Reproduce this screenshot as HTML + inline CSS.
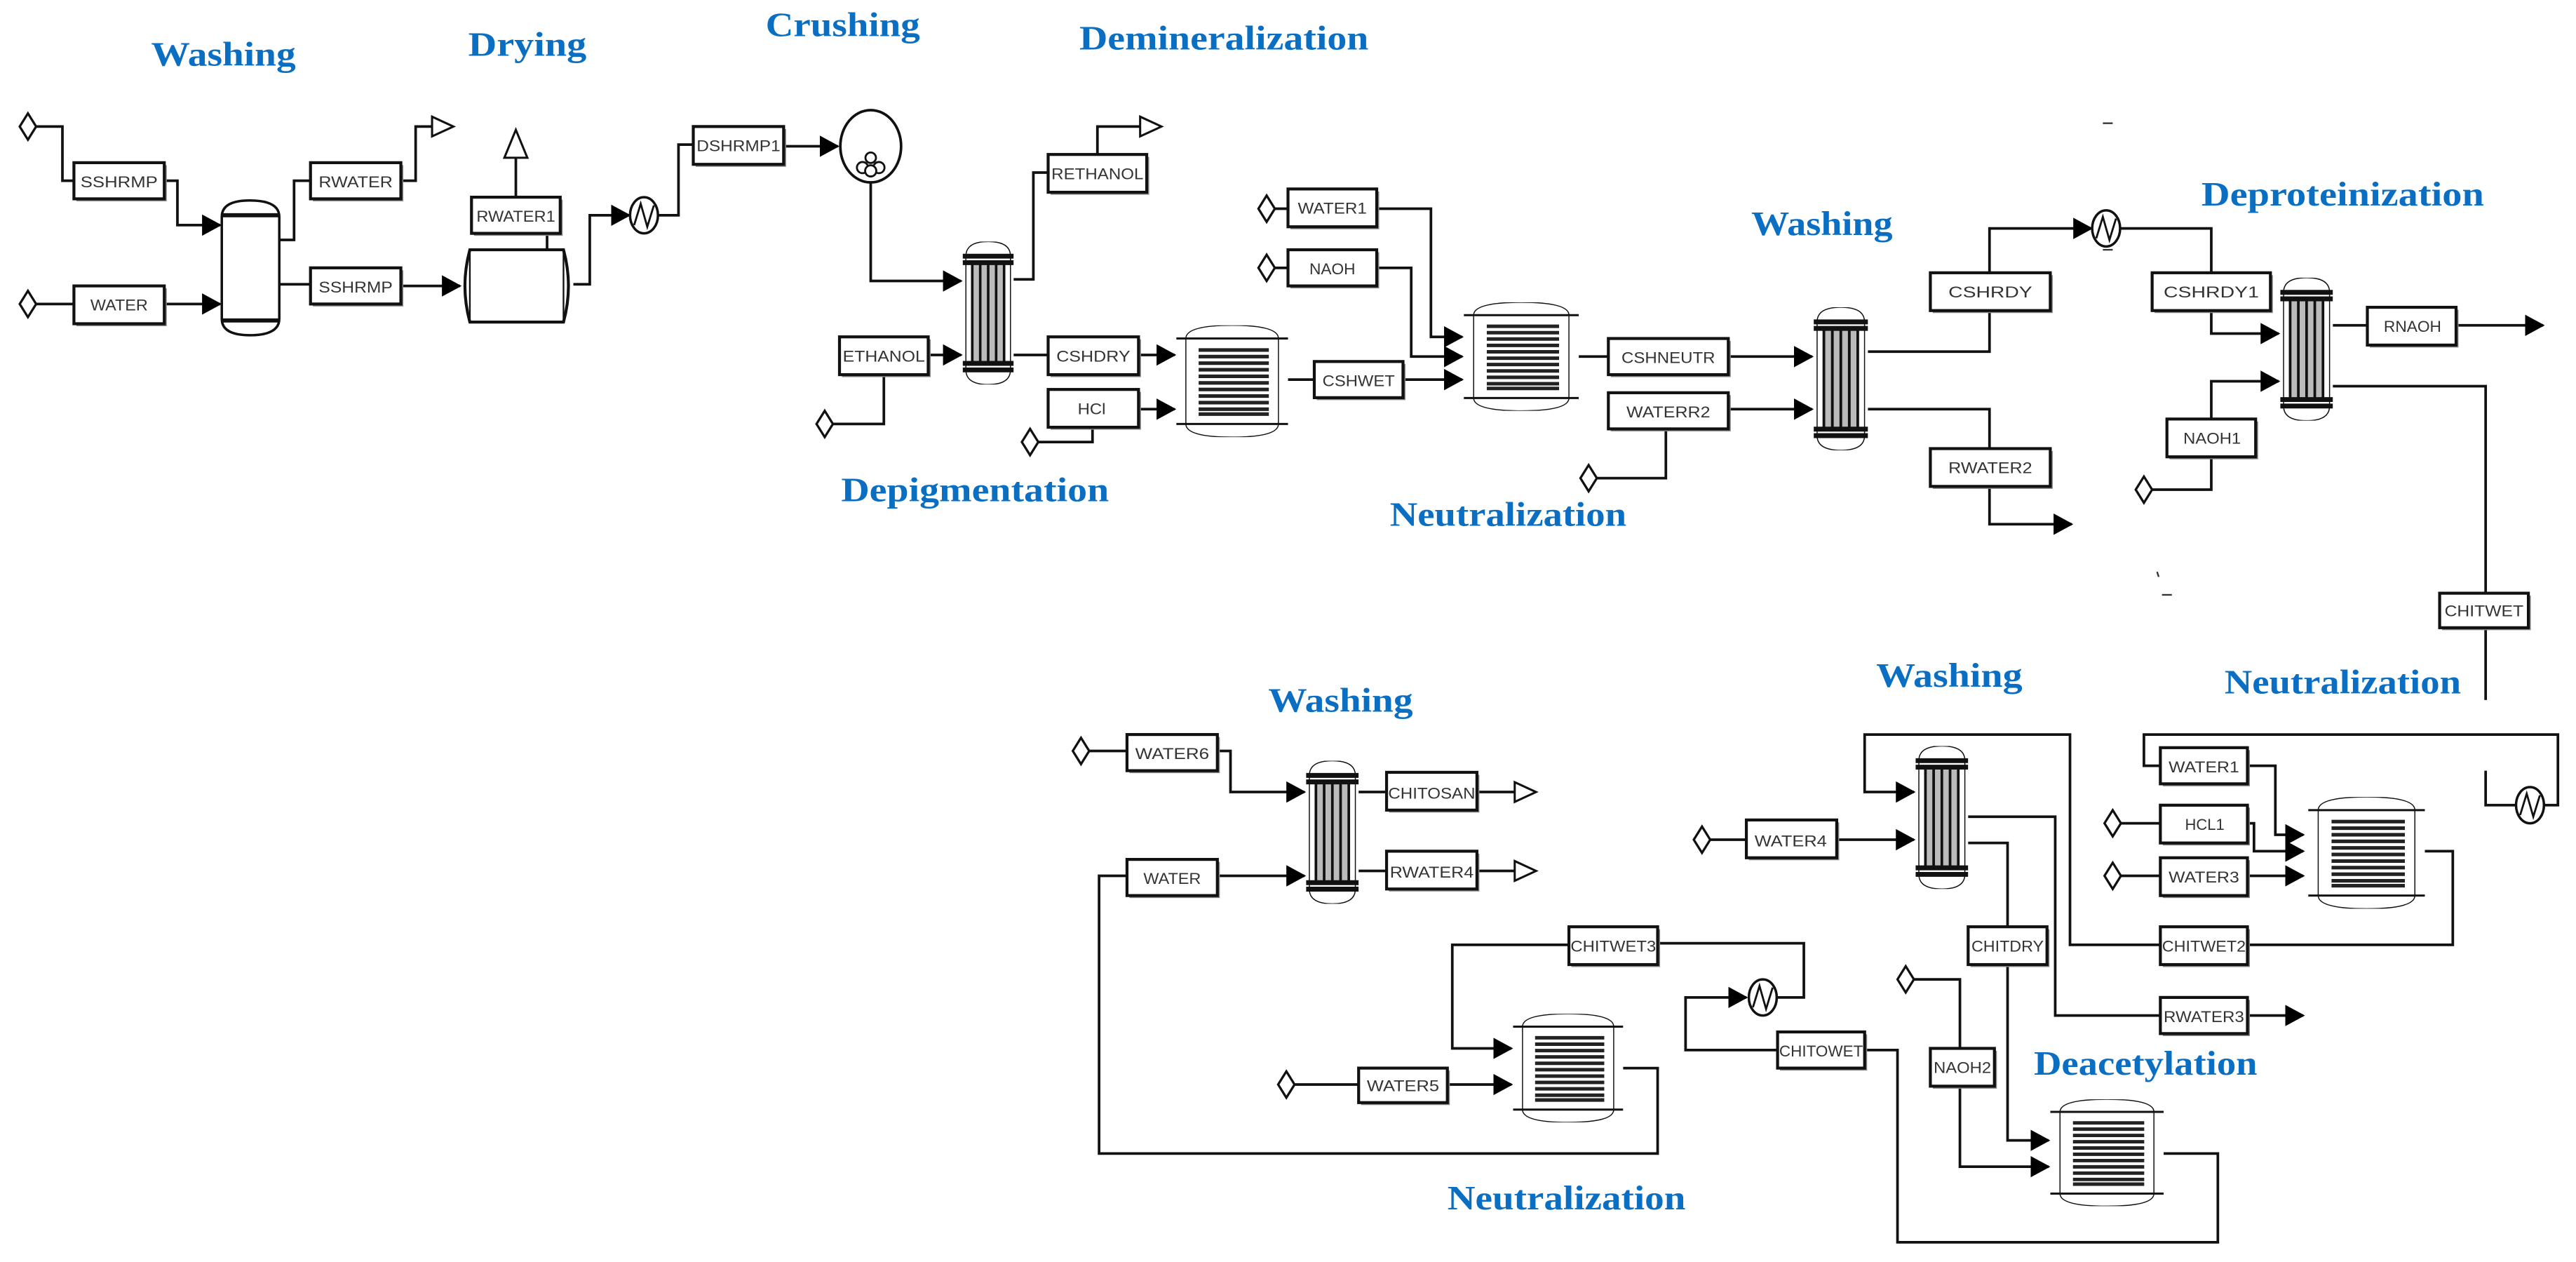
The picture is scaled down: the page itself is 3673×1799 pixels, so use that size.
<!DOCTYPE html>
<html><head><meta charset="utf-8"><style>
html,body{margin:0;padding:0;background:#fff;}
svg{display:block;}
.l{fill:none;stroke:#111;stroke-width:1.6;}
.b{fill:#fff;stroke:#111;stroke-width:1.8;}
.s{fill:#888;}
.t{font-family:"Liberation Sans",sans-serif;font-size:9.5px;fill:#333;}
.h{font-family:"Liberation Serif",serif;font-weight:bold;font-size:21px;fill:#0a6fc2;}
.d{fill:#fff;stroke:#111;stroke-width:1.4;}
</style></head><body>
<svg width="3673" height="1799" viewBox="0 0 1568 768" preserveAspectRatio="none" xmlns="http://www.w3.org/2000/svg">
<defs>
<marker id="a" markerUnits="userSpaceOnUse" markerWidth="12" markerHeight="13" refX="11" refY="6.5" orient="auto"><path d="M0,0 L12,6.5 L0,13 z" fill="#000"/></marker>
<marker id="o" markerUnits="userSpaceOnUse" markerWidth="16" markerHeight="14" refX="1" refY="7" orient="auto"><path d="M1,1 L14,7 L1,13 z" fill="#fff" stroke="#111" stroke-width="1.3"/></marker>
<symbol id="R" viewBox="0 0 70 68" preserveAspectRatio="none">
<path d="M6,8 Q6,0 35,0 Q64,0 64,8 L64,60 Q64,68 35,68 Q6,68 6,60 Z" fill="#fff" stroke="#111" stroke-width="1.5" vector-effect="non-scaling-stroke"/>
<line x1="0" y1="8" x2="70" y2="8" stroke="#111" stroke-width="3" vector-effect="non-scaling-stroke"/>
<line x1="0" y1="60" x2="70" y2="60" stroke="#111" stroke-width="3" vector-effect="non-scaling-stroke"/>
<g stroke="#222" stroke-width="2.2" vector-effect="non-scaling-stroke">
<line x1="14" y1="15" x2="58" y2="15"/><line x1="14" y1="19" x2="58" y2="19"/><line x1="14" y1="23" x2="58" y2="23"/><line x1="14" y1="27" x2="58" y2="27"/><line x1="14" y1="31" x2="58" y2="31"/><line x1="14" y1="35" x2="58" y2="35"/><line x1="14" y1="39" x2="58" y2="39"/><line x1="14" y1="43" x2="58" y2="43"/><line x1="14" y1="47" x2="58" y2="47"/><line x1="14" y1="51" x2="58" y2="51"/><line x1="14" y1="54" x2="58" y2="54"/>
</g></symbol>
<symbol id="C" viewBox="0 0 32 88" preserveAspectRatio="none">
<path d="M2,9 Q2,0 16,0 Q30,0 30,9 L30,79 Q30,88 16,88 Q2,88 2,79 Z" fill="#fff" stroke="#111" stroke-width="1.5" vector-effect="non-scaling-stroke"/>
<rect x="6" y="12" width="20" height="64" fill="#bbb"/>
<g stroke="#111" stroke-width="3" vector-effect="non-scaling-stroke"><line x1="0" y1="9" x2="32" y2="9"/><line x1="0" y1="13" x2="32" y2="13"/><line x1="0" y1="75" x2="32" y2="75"/><line x1="0" y1="79" x2="32" y2="79"/></g>
<g stroke="#111" stroke-width="1.6" vector-effect="non-scaling-stroke"><line x1="6" y1="13" x2="6" y2="75"/><line x1="11" y1="13" x2="11" y2="75"/><line x1="16" y1="13" x2="16" y2="75"/><line x1="21" y1="13" x2="21" y2="75"/><line x1="26" y1="13" x2="26" y2="75"/></g>
</symbol>
</defs>

<!-- headings -->
<text class="h" x="92" y="40" textLength="88" lengthAdjust="spacingAndGlyphs">Washing</text>
<text class="h" x="285" y="34" textLength="72" lengthAdjust="spacingAndGlyphs">Drying</text>
<text class="h" x="466" y="22" textLength="94" lengthAdjust="spacingAndGlyphs">Crushing</text>
<text class="h" x="657" y="30" textLength="176" lengthAdjust="spacingAndGlyphs">Demineralization</text>
<text class="h" x="512" y="305" textLength="163" lengthAdjust="spacingAndGlyphs">Depigmentation</text>
<text class="h" x="846" y="320" textLength="144" lengthAdjust="spacingAndGlyphs">Neutralization</text>
<text class="h" x="1066" y="143" textLength="86" lengthAdjust="spacingAndGlyphs">Washing</text>
<text class="h" x="1340" y="125" textLength="172" lengthAdjust="spacingAndGlyphs">Deproteinization</text>
<text class="h" x="772" y="433" textLength="88" lengthAdjust="spacingAndGlyphs">Washing</text>
<text class="h" x="1142" y="418" textLength="89" lengthAdjust="spacingAndGlyphs">Washing</text>
<text class="h" x="1354" y="422" textLength="144" lengthAdjust="spacingAndGlyphs">Neutralization</text>
<text class="h" x="1238" y="654" textLength="136" lengthAdjust="spacingAndGlyphs">Deacetylation</text>
<text class="h" x="881" y="736" textLength="145" lengthAdjust="spacingAndGlyphs">Neutralization</text>

<!-- stray marks -->
<g stroke="#333" stroke-width="1"><line x1="1280" y1="75" x2="1286" y2="75"/><line x1="1280" y1="152" x2="1286" y2="152"/><line x1="1313" y1="348" x2="1314" y2="351"/><line x1="1316" y1="362" x2="1322" y2="362"/></g>

<!-- lines -->
<g class="l">
<path d="M22,77 H38 V110 H45"/>
<path d="M100,110 H108 V137 H134" marker-end="url(#a)"/>
<path d="M22,185 H45"/>
<path d="M100,185 H134" marker-end="url(#a)"/>
<path d="M170,146 H179 V110 H189"/>
<path d="M244,110 H253 V77 H263" marker-end="url(#o)"/>
<path d="M170,173 H189"/>
<path d="M244,174 H280" marker-end="url(#a)"/>
<path d="M333,152 V142"/>
<path d="M314,120 V95"/>
<path d="M349,173 H359 V131 H383" marker-end="url(#a)"/>
<path d="M401,131 H413 V88 H422"/>
<path d="M477,89 H510" marker-end="url(#a)"/>
<path d="M530,111 V171 H585" marker-end="url(#a)"/>
<path d="M617,170 H629 V105 H638"/>
<path d="M668,94 V77 H694" marker-end="url(#o)"/>
<path d="M565,216 H585" marker-end="url(#a)"/>
<path d="M507,258 H538 V228"/>
<path d="M617,216 H638"/>
<path d="M693,216 H715" marker-end="url(#a)"/>
<path d="M693,249 H715" marker-end="url(#a)"/>
<path d="M632,269 H665 V260"/>
<path d="M784,231 H800"/>
<path d="M854,231 H890" marker-end="url(#a)"/>
<path d="M776,127 H784"/><path d="M838,127 H871 V205 H890" marker-end="url(#a)"/>
<path d="M776,163 H784"/><path d="M838,163 H859 V217 H890" marker-end="url(#a)"/>
<path d="M961,217 H979"/>
<path d="M1052,217 H1103" marker-end="url(#a)"/>
<path d="M1052,249 H1103" marker-end="url(#a)"/>
<path d="M972,291 H1014 V261"/>
<path d="M1137,214 H1211 V189"/>
<path d="M1211,166 V139 H1273" marker-end="url(#a)"/>
<path d="M1291,139 H1346 V166"/>
<path d="M1346,189 V203 H1387" marker-end="url(#a)"/>
<path d="M1137,249 H1211 V273"/>
<path d="M1211,296 V319 H1261" marker-end="url(#a)"/>
<path d="M1420,198 H1441"/>
<path d="M1495,198 H1548" marker-end="url(#a)"/>
<path d="M1346,255 V232 H1387" marker-end="url(#a)"/>
<path d="M1310,298 H1346 V278"/>
<path d="M1420,235 H1513 V361"/>
<path d="M1513,382 V426"/>
<path d="M1513,469 V490 H1531"/>
<path d="M1549,490 H1557 V447 H1305 V466 H1315"/>
<path d="M1368,466 H1385 V508 H1402" marker-end="url(#a)"/>
<path d="M1291,501 H1315"/>
<path d="M1368,501 H1372 V518 H1402" marker-end="url(#a)"/>
<path d="M1291,533 H1315"/>
<path d="M1368,533 H1402" marker-end="url(#a)"/>
<path d="M1476,518 H1493 V575 H1368"/>
<path d="M1315,575 H1260 V447 H1135 V482 H1165" marker-end="url(#a)"/>
<path d="M1041,511 H1063"/>
<path d="M1118,511 H1165" marker-end="url(#a)"/>
<path d="M1198,497 H1251 V618 H1315"/>
<path d="M1368,618 H1402" marker-end="url(#a)"/>
<path d="M1198,513 H1222 V564"/>
<path d="M1222,587 V694 H1247" marker-end="url(#a)"/>
<path d="M1165,596 H1193 V638"/>
<path d="M1193,661 V710 H1247" marker-end="url(#a)"/>
<path d="M1317,702 H1350 V756 H1155 V639 H1135"/>
<path d="M1082,639 H1026 V607 H1063" marker-end="url(#a)"/>
<path d="M1082,607 H1098 V574 H1009"/>
<path d="M955,575 H884 V638 H920" marker-end="url(#a)"/>
<path d="M788,660 H827"/>
<path d="M881,660 H920" marker-end="url(#a)"/>
<path d="M988,650 H1009 V702 H669 V533 H686"/>
<path d="M741,533 H794" marker-end="url(#a)"/>
<path d="M663,457 H686"/>
<path d="M741,457 H749 V482 H794" marker-end="url(#a)"/>
<path d="M827,482 H844"/>
<path d="M899,482 H922" marker-end="url(#o)"/>
<path d="M827,530 H844"/>
<path d="M899,530 H922" marker-end="url(#o)"/>
</g>
<!-- up open arrow -->
<path d="M314,79 L321,96 L307,96 Z" fill="#fff" stroke="#111" stroke-width="1.3"/>

<!-- diamonds -->
<g class="d">
<polygon points="12,77 17,69 22,77 17,85"/>
<polygon points="12,185 17,177 22,185 17,193"/>
<polygon points="497,258 502,250 507,258 502,266"/>
<polygon points="622,269 627,261 632,269 627,277"/>
<polygon points="766,127 771,119 776,127 771,135"/>
<polygon points="766,163 771,155 776,163 771,171"/>
<polygon points="962,291 967,283 972,291 967,299"/>
<polygon points="1300,298 1305,290 1310,298 1305,306"/>
<polygon points="1281,501 1286,493 1291,501 1286,509"/>
<polygon points="1281,533 1286,525 1291,533 1286,541"/>
<polygon points="1031,511 1036,503 1041,511 1036,519"/>
<polygon points="1155,596 1160,588 1165,596 1160,604"/>
<polygon points="778,660 783,652 788,660 783,668"/>
<polygon points="653,457 658,449 663,457 658,465"/>
</g>

<!-- washer column -->
<path d="M135,132 Q135,122 152,122 Q170,122 170,132 L170,194 Q170,204 152,204 Q135,204 135,194 Z" fill="#fff" stroke="#111" stroke-width="1.5"/>
<line x1="135" y1="131" x2="170" y2="131" stroke="#111" stroke-width="2.5"/>
<line x1="135" y1="195" x2="170" y2="195" stroke="#111" stroke-width="2.5"/>
<!-- drum -->
<path d="M286,152 H343 Q349,174 343,196 H286 Q280,174 286,152 Z" fill="#fff" stroke="#111" stroke-width="1.8"/>
<line x1="286" y1="152" x2="286" y2="196" stroke="#111" stroke-width="1"/>
<line x1="343" y1="152" x2="343" y2="196" stroke="#111" stroke-width="1"/>
<!-- heaters -->
<g fill="#fff" stroke="#111" stroke-width="1.5">
<ellipse cx="392" cy="131" rx="8.5" ry="11"/>
<ellipse cx="1282" cy="139" rx="8.5" ry="11"/>
<ellipse cx="1540" cy="490" rx="8.5" ry="11"/>
<ellipse cx="1073" cy="607" rx="8.5" ry="11"/>
</g>
<g fill="none" stroke="#111" stroke-width="1.2">
<path d="M386,137 L390,124 L394,138 L398,125"/>
<path d="M1276,145 L1280,132 L1284,146 L1288,133"/>
<path d="M1534,496 L1538,483 L1542,497 L1546,484"/>
<path d="M1067,613 L1071,600 L1075,614 L1079,601"/>
</g>
<!-- crusher -->
<ellipse cx="530" cy="89" rx="18.5" ry="22" fill="#fff" stroke="#111" stroke-width="1.6"/>
<g fill="#fff" stroke="#111" stroke-width="1.2">
<circle cx="530" cy="96" r="3.2"/><circle cx="525" cy="102" r="3.4"/><circle cx="535" cy="102" r="3.4"/><circle cx="530" cy="104" r="3.4"/>
</g>

<!-- columns -->
<use href="#C" x="586" y="147" width="31" height="87"/>
<use href="#C" x="1104" y="187" width="33" height="87"/>
<use href="#C" x="1388" y="169" width="32" height="87"/>
<use href="#C" x="1166" y="454" width="32" height="87"/>
<use href="#C" x="795" y="463" width="32" height="87"/>
<!-- reactors -->
<use href="#R" x="716" y="198" width="68" height="68"/>
<use href="#R" x="891" y="184" width="70" height="66"/>
<use href="#R" x="1405" y="485" width="71" height="68"/>
<use href="#R" x="1248" y="669" width="69" height="65"/>
<use href="#R" x="921" y="617" width="67" height="66"/>

<!-- boxes -->
<g>
<rect class="s" x="46.5" y="100.5" width="55" height="22"/><rect class="b" x="45" y="99" width="55" height="22"/><text class="t" x="49" y="114" textLength="47" lengthAdjust="spacingAndGlyphs">SSHRMP</text>
<rect class="s" x="46.5" y="175.5" width="55" height="23"/><rect class="b" x="45" y="174" width="55" height="23"/><text class="t" x="55" y="189" textLength="35" lengthAdjust="spacingAndGlyphs">WATER</text>
<rect class="s" x="190.5" y="100.5" width="55" height="22"/><rect class="b" x="189" y="99" width="55" height="22"/><text class="t" x="194" y="114" textLength="45" lengthAdjust="spacingAndGlyphs">RWATER</text>
<rect class="s" x="190.5" y="164.5" width="55" height="22"/><rect class="b" x="189" y="163" width="55" height="22"/><text class="t" x="194" y="178" textLength="45" lengthAdjust="spacingAndGlyphs">SSHRMP</text>
<rect class="s" x="288.5" y="121.5" width="54" height="22"/><rect class="b" x="287" y="120" width="54" height="22"/><text class="t" x="290" y="135" textLength="48" lengthAdjust="spacingAndGlyphs">RWATER1</text>
<rect class="s" x="423.5" y="78.5" width="55" height="23"/><rect class="b" x="422" y="77" width="55" height="23"/><text class="t" x="424" y="92" textLength="51" lengthAdjust="spacingAndGlyphs">DSHRMP1</text>
<rect class="s" x="639.5" y="95.5" width="60" height="23"/><rect class="b" x="638" y="94" width="60" height="23"/><text class="t" x="640" y="109" textLength="56" lengthAdjust="spacingAndGlyphs">RETHANOL</text>
<rect class="s" x="512.5" y="206.5" width="54" height="23"/><rect class="b" x="511" y="205" width="54" height="23"/><text class="t" x="513" y="220" textLength="50" lengthAdjust="spacingAndGlyphs">ETHANOL</text>
<rect class="s" x="639.5" y="206.5" width="55" height="23"/><rect class="b" x="638" y="205" width="55" height="23"/><text class="t" x="643" y="220" textLength="45" lengthAdjust="spacingAndGlyphs">CSHDRY</text>
<rect class="s" x="639.5" y="238.5" width="55" height="23"/><rect class="b" x="638" y="237" width="55" height="23"/><text class="t" x="656" y="252" textLength="17" lengthAdjust="spacingAndGlyphs">HCl</text>
<rect class="s" x="801.5" y="221.5" width="54" height="22"/><rect class="b" x="800" y="220" width="54" height="22"/><text class="t" x="805" y="235" textLength="44" lengthAdjust="spacingAndGlyphs">CSHWET</text>
<rect class="s" x="785.5" y="116.5" width="54" height="23"/><rect class="b" x="784" y="115" width="54" height="23"/><text class="t" x="790" y="130" textLength="42" lengthAdjust="spacingAndGlyphs">WATER1</text>
<rect class="s" x="785.5" y="153.5" width="54" height="22"/><rect class="b" x="784" y="152" width="54" height="22"/><text class="t" x="797" y="167" textLength="28" lengthAdjust="spacingAndGlyphs">NAOH</text>
<rect class="s" x="980.5" y="207.5" width="73" height="22"/><rect class="b" x="979" y="206" width="73" height="22"/><text class="t" x="987" y="221" textLength="57" lengthAdjust="spacingAndGlyphs">CSHNEUTR</text>
<rect class="s" x="980.5" y="240.5" width="73" height="22"/><rect class="b" x="979" y="239" width="73" height="22"/><text class="t" x="990" y="254" textLength="51" lengthAdjust="spacingAndGlyphs">WATERR2</text>
<rect class="s" x="1176.5" y="167.5" width="73" height="23"/><rect class="b" x="1175" y="166" width="73" height="23"/><text class="t" x="1186" y="181" textLength="51" lengthAdjust="spacingAndGlyphs">CSHRDY</text>
<rect class="s" x="1311.5" y="167.5" width="72" height="23"/><rect class="b" x="1310" y="166" width="72" height="23"/><text class="t" x="1317" y="181" textLength="58" lengthAdjust="spacingAndGlyphs">CSHRDY1</text>
<rect class="s" x="1176.5" y="274.5" width="73" height="23"/><rect class="b" x="1175" y="273" width="73" height="23"/><text class="t" x="1186" y="288" textLength="51" lengthAdjust="spacingAndGlyphs">RWATER2</text>
<rect class="s" x="1442.5" y="188.5" width="54" height="23"/><rect class="b" x="1441" y="187" width="54" height="23"/><text class="t" x="1451" y="202" textLength="35" lengthAdjust="spacingAndGlyphs">RNAOH</text>
<rect class="s" x="1320.5" y="256.5" width="54" height="23"/><rect class="b" x="1319" y="255" width="54" height="23"/><text class="t" x="1329" y="270" textLength="35" lengthAdjust="spacingAndGlyphs">NAOH1</text>
<rect class="s" x="1486.5" y="362.5" width="54" height="21"/><rect class="b" x="1485" y="361" width="54" height="21"/><text class="t" x="1488" y="375" textLength="48" lengthAdjust="spacingAndGlyphs">CHITWET</text>
<rect class="s" x="1316.5" y="456.5" width="53" height="22"/><rect class="b" x="1315" y="455" width="53" height="22"/><text class="t" x="1320" y="470" textLength="43" lengthAdjust="spacingAndGlyphs">WATER1</text>
<rect class="s" x="1316.5" y="491.5" width="53" height="23"/><rect class="b" x="1315" y="490" width="53" height="23"/><text class="t" x="1330" y="505" textLength="24" lengthAdjust="spacingAndGlyphs">HCL1</text>
<rect class="s" x="1316.5" y="523.5" width="53" height="23"/><rect class="b" x="1315" y="522" width="53" height="23"/><text class="t" x="1320" y="537" textLength="43" lengthAdjust="spacingAndGlyphs">WATER3</text>
<rect class="s" x="1316.5" y="565.5" width="53" height="23"/><rect class="b" x="1315" y="564" width="53" height="23"/><text class="t" x="1316" y="579" textLength="51" lengthAdjust="spacingAndGlyphs">CHITWET2</text>
<rect class="s" x="1064.5" y="500.5" width="55" height="23"/><rect class="b" x="1063" y="499" width="55" height="23"/><text class="t" x="1068" y="515" textLength="44" lengthAdjust="spacingAndGlyphs">WATER4</text>
<rect class="s" x="1316.5" y="608.5" width="53" height="22"/><rect class="b" x="1315" y="607" width="53" height="22"/><text class="t" x="1317" y="622" textLength="49" lengthAdjust="spacingAndGlyphs">RWATER3</text>
<rect class="s" x="1199.5" y="565.5" width="48" height="23"/><rect class="b" x="1198" y="564" width="48" height="23"/><text class="t" x="1200" y="579" textLength="44" lengthAdjust="spacingAndGlyphs">CHITDRY</text>
<rect class="s" x="1176.5" y="639.5" width="39" height="23"/><rect class="b" x="1175" y="638" width="39" height="23"/><text class="t" x="1177" y="653" textLength="35" lengthAdjust="spacingAndGlyphs">NAOH2</text>
<rect class="s" x="1083.5" y="629.5" width="53" height="22"/><rect class="b" x="1082" y="628" width="53" height="22"/><text class="t" x="1083" y="643" textLength="51" lengthAdjust="spacingAndGlyphs">CHITOWET</text>
<rect class="s" x="956.5" y="565.5" width="54" height="23"/><rect class="b" x="955" y="564" width="54" height="23"/><text class="t" x="956" y="579" textLength="52" lengthAdjust="spacingAndGlyphs">CHITWET3</text>
<rect class="s" x="828.5" y="651.5" width="54" height="21"/><rect class="b" x="827" y="650" width="54" height="21"/><text class="t" x="832" y="664" textLength="44" lengthAdjust="spacingAndGlyphs">WATER5</text>
<rect class="s" x="687.5" y="524.5" width="55" height="22"/><rect class="b" x="686" y="523" width="55" height="22"/><text class="t" x="696" y="538" textLength="35" lengthAdjust="spacingAndGlyphs">WATER</text>
<rect class="s" x="687.5" y="448.5" width="55" height="22"/><rect class="b" x="686" y="447" width="55" height="22"/><text class="t" x="691" y="462" textLength="45" lengthAdjust="spacingAndGlyphs">WATER6</text>
<rect class="s" x="845.5" y="471.5" width="55" height="23"/><rect class="b" x="844" y="470" width="55" height="23"/><text class="t" x="845" y="486" textLength="53" lengthAdjust="spacingAndGlyphs">CHITOSAN</text>
<rect class="s" x="845.5" y="519.5" width="55" height="23"/><rect class="b" x="844" y="518" width="55" height="23"/><text class="t" x="846" y="534" textLength="51" lengthAdjust="spacingAndGlyphs">RWATER4</text>
</g>
</svg>
</body></html>
